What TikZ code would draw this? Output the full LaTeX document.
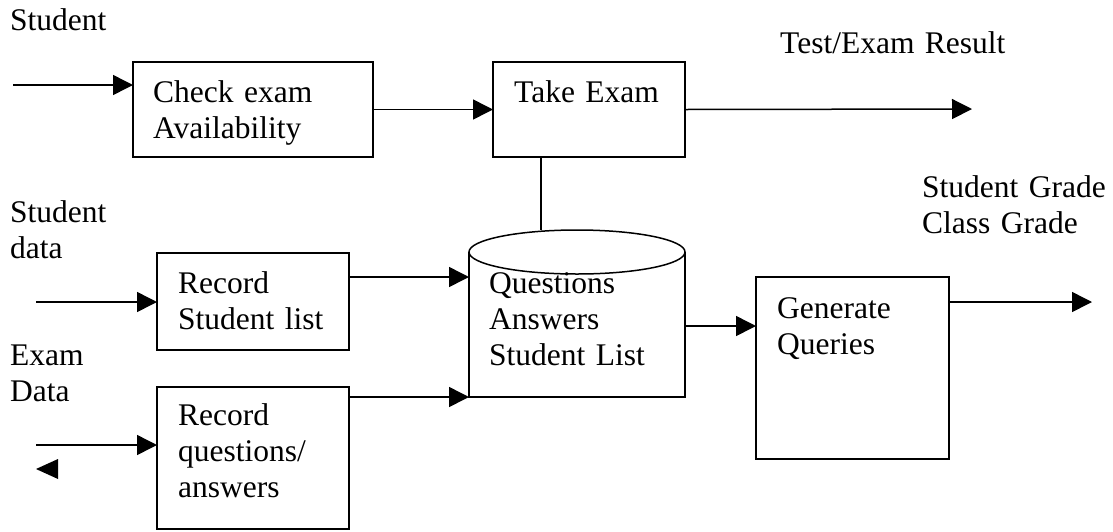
\documentclass[tikz,border=0pt]{standalone}
\usepackage{fontspec}
\setmainfont{Liberation Serif}
\usetikzlibrary{arrows.meta,calc}
\begin{document}
\begin{tikzpicture}[x=1pt,y=-1pt,
  every node/.style={font=\fontsize{31.5}{36.2}\selectfont},
  procbox/.style={draw,line width=1.5pt,anchor=north west,inner sep=0pt,outer sep=0pt},
  txt/.style={anchor=base west,inner sep=0pt,text width=340pt,align=left},
  arr/.style={line width=1.5pt,-{Triangle[length=20pt,width=20pt]}},
  ln/.style={line width=1.5pt}]
\useasboundingbox (0,0) rectangle (1113,531);
% boxes
\node[procbox,minimum width=240pt,minimum height=95pt] (check) at (133,62) {};
\node[procbox,minimum width=192pt,minimum height=95pt] (take) at (493,62) {};
\node[procbox,minimum width=192pt,minimum height=97pt] (rsl) at (157,253) {};
\node[procbox,minimum width=192pt,minimum height=142pt] (rqa) at (157,387) {};
\node[procbox,minimum width=193pt,minimum height=182pt] (gen) at (756,277) {};
% database (cylinder with flat bottom)
\node[anchor=north west,inner sep=0pt,outer sep=0pt,minimum width=216pt,minimum height=167pt] (db) at (469,230) {};
\draw[ln] (469,252) -- (db.south west) -- (db.south east) -- (685,252);
\draw[ln,fill=white] (577,252) ellipse [x radius=108, y radius=22];
% texts
\node[txt] (tcheck) at (153,102) {Check exam\\Availability};
\node[txt] (ttake) at (514,102) {Take Exam};
\node[txt] (trsl) at (178,293) {Record\\Student list};
\node[txt] (trqa) at (178,425) {Record\\questions/\\answers};
\node[txt] (tdb) at (489,293) {Questions\\Answers\\Student List};
\node[txt] (tgen) at (777,318) {Generate\\Queries};
\node[txt] (lstud) at (10,30) {Student};
\node[txt] (lsdata) at (10,222) {Student\\data};
\node[txt] (lexam) at (10,365) {Exam\\Data};
\node[txt] (lres) at (780,53) {Test/Exam Result};
\node[txt] (lgrade) at (922,197) {Student Grade\\Class Grade};
% free ends
\coordinate (s1) at (13,85);
\coordinate (s2) at (36,302);
\coordinate (s3) at (36,445);
\coordinate (o1) at (972,109);
\coordinate (o2) at (1092,302);
% connectors
\draw[arr] (s1) -- (check.west |- s1);
\draw[arr] (check.east) -- (take.west);
\draw[arr] (take.east) -- (o1);
\draw[ln] (take.south -| 541,0) -- (db.north -| 541,0);
\draw[arr] (s2) -- (rsl.west |- s2);
\draw[arr] (rsl.north east |- 0,277) -- (db.west |- 0,277);
\draw[arr] (s3) -- (rqa.west |- s3);
\draw[arr] (rqa.north east |- db.south west) -- (db.south west);
\draw[arr] (db.east |- 0,326) -- (gen.west |- 0,326);
\draw[arr] (gen.east |- o2) -- (o2);
% lone arrowhead
\fill (36,469) -- (58,459) -- (58,479) -- cycle;
\end{tikzpicture}
\end{document}
